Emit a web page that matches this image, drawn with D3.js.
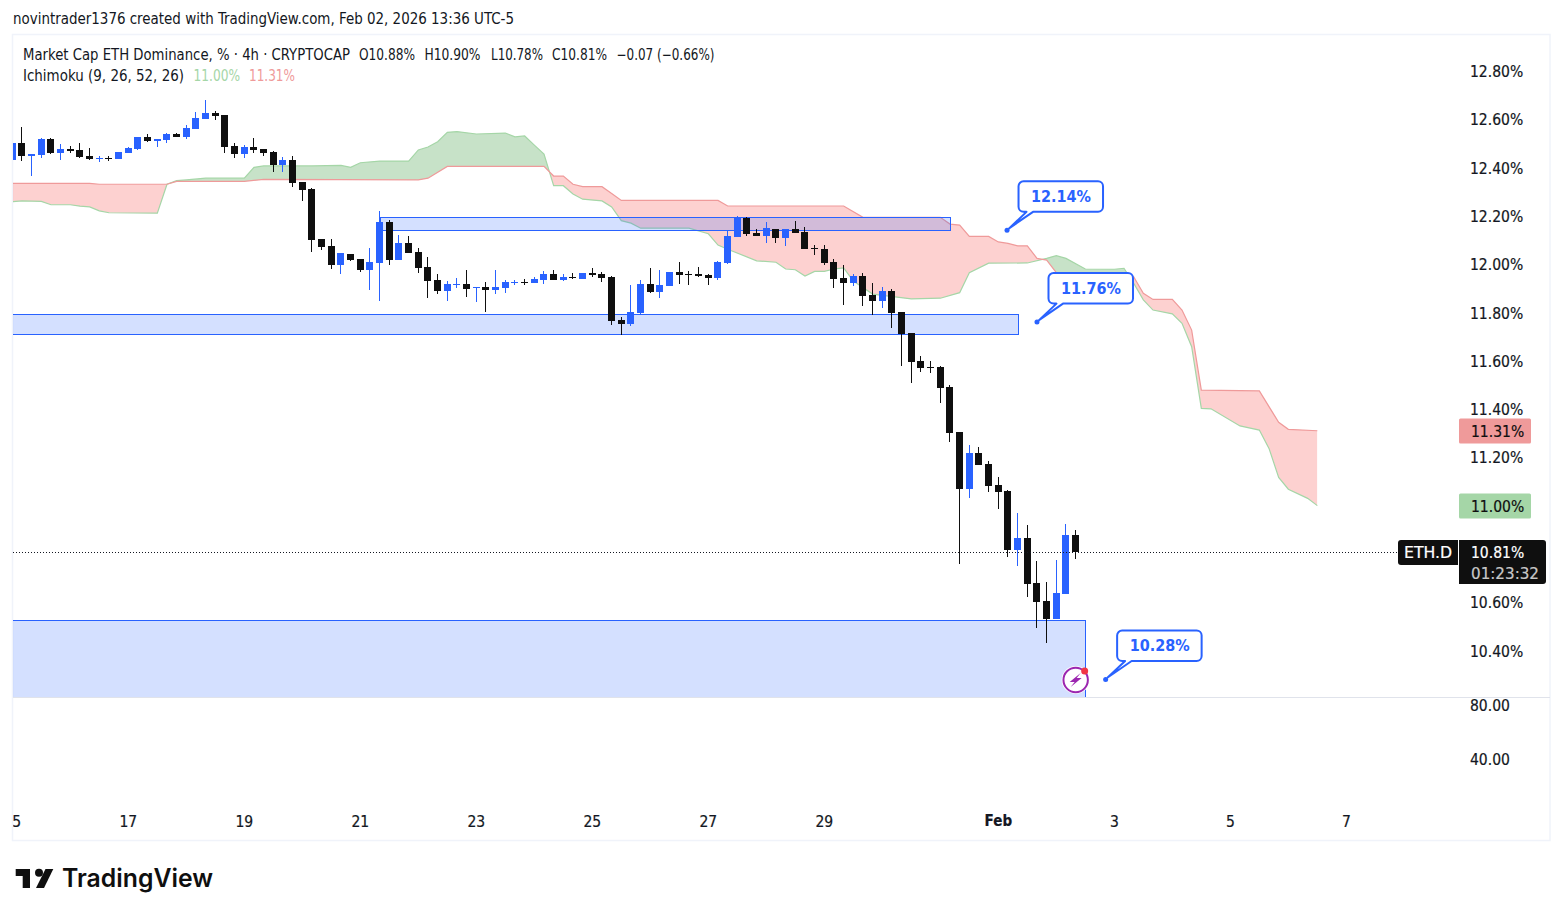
<!DOCTYPE html>
<html><head><meta charset="utf-8">
<script src="https://cdn.jsdelivr.net/npm/d3@7"></script>
<style>
html,body{margin:0;padding:0;background:#fff;overflow:hidden}
svg{display:block}
text{font-family:"DejaVu Sans",sans-serif;fill:#131722}
.cond{font-stretch:condensed}
</style></head><body><svg id="c" width="1563" height="916"></svg>
<script>
// --- data ---
const opens=[12.431,12.502,12.448,12.452,12.518,12.460,12.477,12.473,12.448,12.435,12.440,12.435,12.460,12.477,12.527,12.510,12.514,12.539,12.527,12.560,12.601,12.626,12.618,12.489,12.456,12.485,12.477,12.464,12.411,12.431,12.340,12.311,12.104,12.075,11.997,12.042,12.021,11.976,12.005,12.175,12.017,12.088,12.050,11.988,11.934,11.889,11.914,11.918,11.901,11.905,11.893,11.901,11.922,11.926,11.922,11.934,11.959,11.934,11.947,11.938,11.963,11.959,11.947,11.769,11.752,11.798,11.918,11.885,11.910,11.967,11.959,11.959,11.955,11.943,12.005,12.112,12.191,12.129,12.117,12.146,12.108,12.146,12.133,12.067,12.063,12.009,11.943,11.922,11.951,11.872,11.847,11.889,11.802,11.715,11.599,11.574,11.574,11.491,11.305,11.069,11.218,11.172,11.085,11.061,10.816,10.866,10.680,10.605,10.530,10.634,10.88];
const highs=[12.502,12.568,12.456,12.522,12.522,12.498,12.489,12.502,12.481,12.448,12.448,12.464,12.485,12.527,12.539,12.518,12.543,12.543,12.576,12.630,12.680,12.634,12.618,12.502,12.493,12.522,12.477,12.469,12.444,12.448,12.340,12.315,12.104,12.104,12.046,12.042,12.021,12.067,12.220,12.183,12.121,12.117,12.067,12.030,11.959,11.930,11.943,11.976,11.905,11.926,11.976,11.934,11.934,11.938,11.947,11.972,11.976,11.959,11.963,11.963,11.984,11.967,11.951,11.781,11.914,11.934,11.984,11.976,11.967,12.009,11.972,11.988,11.959,12.013,12.137,12.199,12.195,12.146,12.175,12.146,12.146,12.179,12.154,12.079,12.079,12.021,11.997,11.959,11.963,11.922,11.905,11.897,11.802,11.715,11.620,11.599,11.578,11.499,11.305,11.251,11.243,11.185,11.118,11.065,10.969,10.920,10.771,10.684,10.775,10.924,10.90];
const lows=[12.431,12.427,12.365,12.440,12.456,12.431,12.460,12.440,12.431,12.423,12.427,12.435,12.460,12.473,12.506,12.485,12.502,12.527,12.518,12.560,12.601,12.597,12.460,12.440,12.440,12.460,12.448,12.382,12.382,12.320,12.262,12.050,12.059,11.980,11.959,12.013,11.967,11.893,11.847,11.997,12.017,12.046,11.963,11.860,11.876,11.847,11.901,11.864,11.843,11.802,11.876,11.881,11.914,11.914,11.922,11.918,11.934,11.930,11.938,11.938,11.947,11.926,11.748,11.707,11.744,11.794,11.881,11.860,11.910,11.918,11.914,11.947,11.914,11.934,12.001,12.112,12.117,12.117,12.088,12.088,12.075,12.129,12.063,12.038,11.997,11.901,11.831,11.910,11.827,11.789,11.818,11.736,11.578,11.508,11.553,11.549,11.425,11.263,10.758,11.032,11.168,11.056,10.986,10.787,10.750,10.622,10.493,10.431,10.530,10.634,10.78];
const closes=[12.502,12.448,12.456,12.518,12.460,12.477,12.469,12.444,12.435,12.440,12.435,12.464,12.481,12.527,12.510,12.518,12.539,12.527,12.564,12.605,12.626,12.614,12.485,12.456,12.485,12.473,12.460,12.411,12.431,12.336,12.307,12.100,12.071,11.997,12.046,12.017,11.976,12.009,12.175,12.017,12.088,12.046,11.984,11.930,11.889,11.918,11.918,11.897,11.905,11.893,11.905,11.926,11.926,11.922,11.938,11.959,11.934,11.947,11.943,11.963,11.955,11.943,11.765,11.752,11.802,11.918,11.885,11.914,11.967,11.955,11.955,11.951,11.943,12.009,12.117,12.195,12.125,12.117,12.150,12.108,12.146,12.129,12.063,12.063,12.005,11.938,11.922,11.951,11.868,11.847,11.889,11.798,11.711,11.595,11.570,11.570,11.487,11.301,11.069,11.218,11.168,11.081,11.056,10.816,10.866,10.675,10.601,10.530,10.638,10.880,10.81];

const spanAIdx=[0,1,3,4,6,7,8,9,10,15,16,17,18,20,24,25,26,31,34,35,36,38,41,42,43,44,45,46,48,51,52,53,54,55,56,57,58,59,61,62,63,64,65,70,72,73,74,77,79,80,81,82,83,84,85,86,87,89,93,96,98,99,101,105,107,108,109,111,114,115,116,117,118,120,121,122,123,124,127,129,130,131,132,134,135];
const spanA=[12.259,12.262,12.260,12.246,12.246,12.240,12.237,12.221,12.213,12.211,12.331,12.346,12.349,12.356,12.356,12.401,12.407,12.407,12.409,12.401,12.420,12.427,12.427,12.473,12.485,12.507,12.546,12.549,12.539,12.543,12.527,12.531,12.493,12.456,12.325,12.325,12.291,12.269,12.262,12.237,12.180,12.170,12.149,12.149,12.126,12.079,12.062,12.014,12.008,11.980,11.977,11.951,11.970,11.970,11.980,11.985,11.930,11.876,11.856,11.859,11.882,11.965,12.004,12.005,12.024,12.035,12.024,11.980,11.979,11.983,11.921,11.852,11.810,11.794,11.755,11.658,11.403,11.401,11.330,11.313,11.237,11.117,11.068,11.030,11.00];
const spanBIdx=[0,8,9,16,17,24,26,42,43,45,55,56,57,58,59,61,62,63,73,74,86,88,96,97,98,99,101,102,103,104,105,106,107,108,114,116,117,118,120,121,122,123,129,131,132,135];
const spanB=[12.335,12.335,12.331,12.331,12.343,12.343,12.351,12.349,12.356,12.405,12.405,12.365,12.365,12.331,12.321,12.321,12.293,12.264,12.264,12.241,12.241,12.194,12.194,12.166,12.162,12.115,12.115,12.092,12.086,12.076,12.076,12.024,12.017,11.965,11.962,11.948,11.879,11.854,11.854,11.810,11.727,11.478,11.475,11.345,11.316,11.31];

const zoneFrom=[38,-1,-1], zoneTo=[97,104,111], zoneTop=[12.196,11.794,10.526], zoneBottom=[12.141,11.711,10.19];
const calloutIdx=[102.9,106,113.1], calloutPrice=[12.14,11.76,10.28], calloutText=["12.14%","11.76%","10.28%"];

const priceTicks=[12.8,12.6,12.4,12.2,12.0,11.8,11.6,11.4,11.2,10.6,10.4];
const paneTicks=[80,40];
const dateIdx=[0,12,24,36,48,60,72,84,102,114,126,138];
const dateLabels=["15","17","19","21","23","25","27","29","Feb","3","5","7"];

const headerText="novintrader1376 created with TradingView.com, Feb 02, 2026 13:36 UTC-5";
const legendItems=["Market Cap ETH Dominance, % · 4h · CRYPTOCAP","O10.88%","H10.90%","L10.78%","C10.81%","−0.07 (−0.66%)"];
const legendX=[23,359,424.5,491,552,616.5];
const legendW=[327,56,56,52,55,98];
const ichiItems=["Ichimoku (9, 26, 52, 26)","11.00%","11.31%"];
const ichiX=[23,193.5,249];
const ichiW=[161,46.5,46];
const lastA=11.00,lastB=11.31,lastPrice=10.81,countdown="01:23:32";

// --- scales ---
const UP="#2962ff",DOWN="#0f0f0f",GREEN="#a5d6a7",RED="#ef9a9a",AXIS="#131722";
const L=13,R=1549,T=35,B=840,PANE=697;
const x=d3.scaleLinear().domain([0,138]).range([12.33,1346.33]);
const y=d3.scaleLinear().domain([12.8,10.4]).range([71,650.5]);
const y2=d3.scaleLinear().domain([80,40]).range([704.5,759]);
const svg=d3.select("#c");
const defs=svg.append("defs");
defs.append("clipPath").attr("id","plot").append("rect").attr("x",L).attr("y",T).attr("width",R-L).attr("height",PANE-T);
defs.append("clipPath").attr("id","xclip").append("rect").attr("x",L).attr("y",B-40).attr("width",R-L).attr("height",40);

svg.append("rect").attr("x",12.5).attr("y",34.5).attr("width",1537.5).attr("height",806).attr("fill","#fff").attr("stroke","#f0f3fa").attr("stroke-width",1.5);

const plot=svg.append("g").attr("clip-path","url(#plot)");

// --- cloud: each colour is the band between the two spans ---
const ptsA=spanAIdx.map((d,i)=>[d,spanA[i]]), ptsB=spanBIdx.map((d,i)=>[d,spanB[i]]);
const below=d3.area().x(d=>x(d[0])).y1(d=>y(d[1])).y0(1000);
const above=d3.area().x(d=>x(d[0])).y1(d=>y(d[1])).y0(-100);
defs.append("clipPath").attr("id","belowA").append("path").attr("d",below(ptsA));
defs.append("clipPath").attr("id","belowB").append("path").attr("d",below(ptsB));
plot.append("g").attr("clip-path","url(#belowA)").append("path").attr("d",above(ptsB)).attr("fill","#449e48").attr("fill-opacity",.3);
plot.append("g").attr("clip-path","url(#belowB)").append("path").attr("d",above(ptsA)).attr("fill","#f8403a").attr("fill-opacity",.24);
const ln=d3.line().x(d=>x(d[0])).y(d=>y(d[1]));
plot.append("path").attr("d",ln(ptsA)).attr("fill","none").attr("stroke",GREEN).attr("stroke-width",1.2);
plot.append("path").attr("d",ln(ptsB)).attr("fill","none").attr("stroke",RED).attr("stroke-width",1.2);

// --- zones ---
plot.selectAll("rect.zone").data(zoneTop).join("rect").attr("class","zone")
 .attr("x",(d,i)=>Math.round(x(zoneFrom[i]))+.5)
 .attr("width",(d,i)=>Math.round(x(zoneTo[i]))-Math.round(x(zoneFrom[i])))
 .attr("y",d=>Math.round(y(d))+.5)
 .attr("height",(d,i)=>Math.round(y(zoneBottom[i]))-Math.round(y(d)))
 .attr("fill","#2962ff").attr("fill-opacity",.2).attr("stroke",UP).attr("stroke-width",1);
svg.append("line").attr("x1",L).attr("x2",1550).attr("y1",697.5).attr("y2",697.5).attr("stroke","#e0e3eb");

// --- last price line ---
svg.append("line").attr("x1",L).attr("x2",1398).attr("y1",Math.round(y(lastPrice))+.5).attr("y2",Math.round(y(lastPrice))+.5)
 .attr("stroke","#131722").attr("stroke-dasharray","1 2");

// --- candles ---
const col=i=>closes[i]>=opens[i]?UP:DOWN;
const cg=plot.append("g");
cg.selectAll("rect.w").data(opens).join("rect").attr("class","w")
 .attr("x",(d,i)=>Math.floor(x(i))).attr("width",1)
 .attr("y",(d,i)=>Math.round(y(highs[i])))
 .attr("height",(d,i)=>Math.round(y(lows[i]))-Math.round(y(highs[i])))
 .attr("fill",(d,i)=>col(i));
cg.selectAll("rect.b").data(opens).join("rect").attr("class","b")
 .attr("x",(d,i)=>Math.floor(x(i))-3).attr("width",7)
 .attr("y",(d,i)=>Math.round(y(Math.max(d,closes[i]))))
 .attr("height",(d,i)=>Math.max(1,Math.round(y(Math.min(d,closes[i])))-Math.round(y(Math.max(d,closes[i])))))
 .attr("fill",(d,i)=>col(i));

// --- callouts ---
const cgr=svg.selectAll("g.call").data(calloutPrice).join("g").attr("class","call")
 .attr("transform",(d,i)=>`translate(${x(calloutIdx[i])},${y(d)})`);
cgr.append("path").attr("d","M11.5,-44 a5,5 0 0 1 5,-5 H91 a5,5 0 0 1 5,5 V-23.5 a5,5 0 0 1 -5,5 H26 L2,-2 L19.5,-18.5 H16.5 a5,5 0 0 1 -5,-5 Z")
 .attr("fill","#fff").attr("stroke",UP).attr("stroke-width",2).attr("stroke-linejoin","round");
cgr.append("circle").attr("r",2.5).attr("fill",UP);
cgr.append("text").attr("x",54).attr("y",-28).attr("text-anchor","middle").attr("class","cond")
 .style("font-size","16px").style("font-weight","600").style("fill",UP).text((d,i)=>calloutText[i]);

// --- alert icon ---
const ic=svg.append("g").attr("transform",`translate(${x(110)},${y(10.278)})`);
ic.append("circle").attr("r",14).attr("fill","#fff");
ic.append("circle").attr("r",12.2).attr("fill","none").attr("stroke","#9c27b0").attr("stroke-width",2);
ic.append("path").attr("d","M5,-7 L-6,2 H-1 L-5,7 L6,-2 H1 Z").attr("fill","#9c27b0");
ic.append("circle").attr("cx",9).attr("cy",-9).attr("r",3.5).attr("fill","#f23645");

// --- axes ---
const ya=svg.append("g").attr("transform","translate(1470,0)").call(d3.axisRight(y).tickValues(priceTicks).tickSize(0).tickPadding(0).tickFormat(d=>d.toFixed(2)+"%"));
const yb=svg.append("g").attr("transform","translate(1470,0)").call(d3.axisRight(y2).tickValues(paneTicks).tickSize(0).tickPadding(0).tickFormat(d=>d.toFixed(2)));
const xa=svg.append("g").attr("clip-path","url(#xclip)").append("g").attr("transform","translate(-0.5,821)").call(d3.axisBottom(x).tickValues(dateIdx).tickSize(0).tickPadding(0).tickFormat((d,i)=>dateLabels[i]));
[ya,yb,xa].forEach(g=>{g.select(".domain").remove();g.selectAll("text").attr("class","cond").style("font-family",'"DejaVu Sans",sans-serif').style("font-size","15.5px").style("fill",AXIS).style("stroke",AXIS).style("stroke-width",".2px");});
ya.selectAll("text").attr("dy","0.36em");yb.selectAll("text").attr("dy","0.36em");
xa.selectAll("text").attr("y",0).attr("dy","0.36em").style("font-weight",(d,i)=>dateLabels[i]==="Feb"?"700":"400").style("font-size",(d,i)=>dateLabels[i]==="Feb"?"15px":"15.5px");

// --- price badges ---
function label(px,py,txt,fill,w){
 const t=svg.append("text").attr("class","cond").attr("x",px).attr("y",py).attr("dy","0.36em").style("font-size","15.5px").style("fill",fill).style("stroke",fill).style("stroke-width",".2px").text(txt);
 if(w) t.attr("textLength",w).attr("lengthAdjust","spacingAndGlyphs");
}
function badge(v,fill,txt){
 const c=Math.round(y(v));
 svg.append("rect").attr("x",1459).attr("y",c-12.5).attr("width",72).attr("height",25).attr("rx",1.5).attr("fill",fill);
 label(1471,c,txt,"#0f0f0f");
}
badge(lastB,RED,lastB.toFixed(2)+"%");
badge(lastA,GREEN,lastA.toFixed(2)+"%");
const pc=Math.round(y(lastPrice));
svg.append("path").attr("d",`M1458,${pc-12} H1401 a3,3 0 0 0 -3,3 V${pc+10} a3,3 0 0 0 3,3 H1458 Z`).attr("fill","#0f0f0f");
label(1404,pc,"ETH.D","#fff",48);
svg.append("path").attr("d",`M1459,${pc-12} H1543 a3,3 0 0 1 3,3 V${pc+29} a3,3 0 0 1 -3,3 H1459 Z`).attr("fill","#0f0f0f");
label(1471,pc,lastPrice.toFixed(2)+"%","#fff");
label(1471,pc+21,countdown,"#c8c8c8",68);

// --- header / legend ---
svg.append("text").attr("class","cond").attr("x",13).attr("y",24).attr("textLength",501).attr("lengthAdjust","spacingAndGlyphs").style("font-size","15px").text(headerText);
svg.selectAll("text.leg").data(legendItems).join("text").attr("class","leg cond").attr("x",(d,i)=>legendX[i]).attr("y",59.5)
 .attr("textLength",(d,i)=>legendW[i]).attr("lengthAdjust","spacingAndGlyphs").style("font-size","15px").text(d=>d);
svg.selectAll("text.ichi").data(ichiItems).join("text").attr("class","ichi cond").attr("x",(d,i)=>ichiX[i]).attr("y",80.5)
 .attr("textLength",(d,i)=>ichiW[i]).attr("lengthAdjust","spacingAndGlyphs").style("font-size","15px")
 .style("fill",(d,i)=>i==1?GREEN:i==2?RED:"#131722").text(d=>d);

// --- logo ---
const lg=svg.append("g").attr("fill","#0f0f0f");
lg.append("path").attr("d","M15.7,869 H30 V888 H22.7 V876 H15.7 Z");
lg.append("circle").attr("cx",39).attr("cy",872.8).attr("r",4);
lg.append("path").attr("d","M45.5,869 H53.3 L44,888 H36 Z");
svg.append("text").attr("x",62).attr("y",887).attr("textLength",151).attr("lengthAdjust","spacingAndGlyphs")
 .style("font-family","Inter,sans-serif").style("font-weight","600").style("font-size","25px").style("fill","#0f0f0f").text("TradingView");
</script></body></html>
